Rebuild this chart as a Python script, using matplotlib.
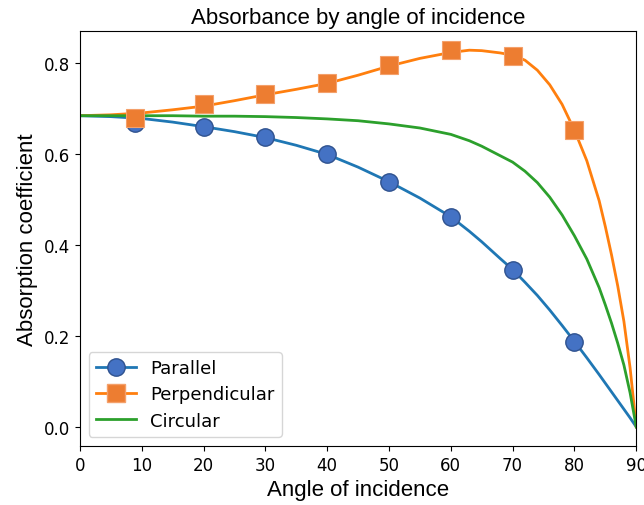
import matplotlib.pyplot as plt
from matplotlib.lines import Line2D

# ---- data ----
angles_line = [0, 5, 10, 15, 20, 25, 30, 35, 40, 45, 50, 55, 60, 63, 65, 68, 70, 72, 74, 76, 78,
               80, 82, 84, 85, 86, 87, 88, 89, 90]
parallel_line = [0.684, 0.682, 0.678, 0.670, 0.660, 0.649, 0.636, 0.619, 0.599, 0.571, 0.539, 0.503,
                 0.462, 0.430, 0.407, 0.370, 0.346, 0.318, 0.289, 0.257, 0.223,
                 0.188, 0.152, 0.115, 0.096, 0.077, 0.058, 0.039, 0.020, 0.0]
perp_line = [0.684, 0.686, 0.690, 0.697, 0.705, 0.717, 0.730, 0.742, 0.755, 0.773, 0.793, 0.810,
             0.823, 0.828, 0.827, 0.822, 0.817, 0.806, 0.784, 0.752, 0.709,
             0.652, 0.585, 0.497, 0.440, 0.378, 0.310, 0.232, 0.130, 0.0]
circ_line = [0.684, 0.684, 0.684, 0.684, 0.683, 0.683, 0.682, 0.680, 0.677, 0.673, 0.666, 0.657,
             0.643, 0.629, 0.617, 0.596, 0.582, 0.562, 0.537, 0.505, 0.466,
             0.420, 0.369, 0.306, 0.268, 0.228, 0.184, 0.136, 0.075, 0.0]

angles_pts = [9, 20, 30, 40, 50, 60, 70, 80]
parallel_pts = [0.668, 0.659, 0.638, 0.599, 0.538, 0.462, 0.345, 0.187]
perp_pts = [0.678, 0.709, 0.731, 0.755, 0.795, 0.829, 0.815, 0.652]

fig = plt.figure(figsize=(6.44, 5.06), dpi=100)
ax = fig.add_axes([0.124, 0.117, 0.864, 0.820])

ax.plot(angles_line, parallel_line, color="tab:blue", lw=2)
ax.plot(angles_line, perp_line, color="tab:orange", lw=2)
ax.plot(angles_line, circ_line, color="tab:green", lw=2)

ax.plot(angles_pts, parallel_pts, "o", ms=12.5, mfc="#4472C4", mec="#2F528F", mew=1, ls="none")
ax.plot(angles_pts, perp_pts, "s", ms=12.5, mfc="#ED7D31", mec="#F4A06A", mew=0.8, ls="none")

ax.set_xlim(0, 90)
ax.set_xticks(range(0, 91, 10))
ax.set_yticks([0.0, 0.2, 0.4, 0.6, 0.8])
ax.tick_params(labelsize=12)

ax.set_title("Absorbance by angle of incidence", fontsize=16, family="Liberation Sans")
ax.set_xlabel("Angle of incidence", fontsize=16, family="Liberation Sans")
ax.set_ylabel("Absorption coefficient", fontsize=16, family="Liberation Sans")

handles = [
    Line2D([], [], color="tab:blue", lw=2, marker="o", ms=12.5, mfc="#4472C4", mec="#2F528F"),
    Line2D([], [], color="tab:orange", lw=2, marker="s", ms=12.5, mfc="#ED7D31", mec="#F4A06A"),
    Line2D([], [], color="tab:green", lw=2),
]
ax.legend(handles, ["Parallel", "Perpendicular", "Circular"], loc="lower left", fontsize=13,
          handlelength=2.2, labelspacing=0.45)

plt.savefig("out.png", dpi=100)
